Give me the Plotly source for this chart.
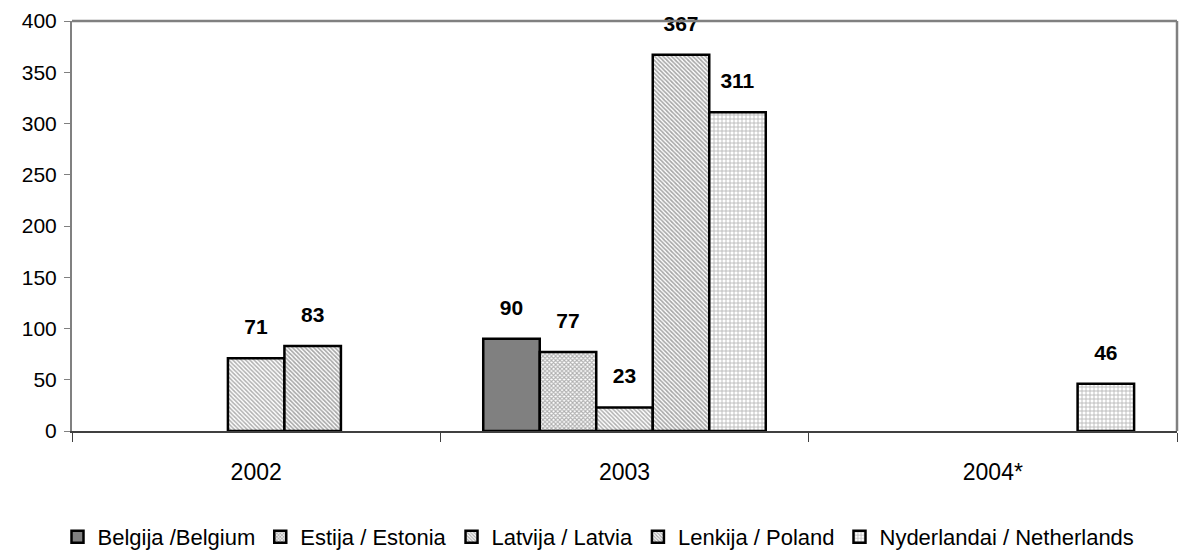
import plotly.graph_objects as go

years = ["2002", "2003", "2004*"]
series_names = ["Belgija /Belgium", "Estija / Estonia", "Latvija / Latvia",
                "Lenkija / Poland", "Nyderlandai / Netherlands"]
belgium = [None, 90, None]
estonia = [None, 77, None]
latvia = [71, 23, None]
poland = [83, 367, None]
netherlands = [None, 311, 46]
y_ticks = [0, 50, 100, 150, 200, 250, 300, 350, 400]

values = [belgium, estonia, latvia, poland, netherlands]
styles = [
    dict(color="#808080", pattern=dict(shape="")),
    dict(color="white", pattern=dict(shape="x", fgcolor="#606060", bgcolor="white", size=3, solidity=0.6)),
    dict(color="white", pattern=dict(shape="\\", fgcolor="#606060", bgcolor="white", size=3, solidity=0.5)),
    dict(color="white", pattern=dict(shape="\\", fgcolor="#505050", bgcolor="white", size=3, solidity=0.55)),
    dict(color="white", pattern=dict(shape="+", fgcolor="#707070", bgcolor="white", size=4, solidity=0.4)),
]

fig = go.Figure()
for name, vals, st in zip(series_names, values, styles):
    fig.add_trace(go.Bar(
        name=name, x=years, y=vals,
        marker=dict(color=st["color"], pattern=st["pattern"],
                    line=dict(color="black", width=2.5)),
        text=[f"<span style='font-size:21px'><b>{v}</b></span><br> " if v is not None else "" for v in vals],
        textposition="outside",
        textfont=dict(family="Liberation Sans, Arial", size=14, color="black"),
        cliponaxis=False,
    ))

fig.update_layout(
    width=1197, height=551,
    margin=dict(l=72, r=20, t=21, b=120, autoexpand=False),
    plot_bgcolor="white", paper_bgcolor="white",
    barmode="group", bargap=0.233, bargroupgap=0,
    font=dict(family="Liberation Sans, Arial", size=21, color="black"),
    showlegend=True,
    legend=dict(orientation="h", x=0.5, xanchor="center", xref="container",
                y=14 / 551, yanchor="middle", yref="container",
                font=dict(size=22), itemwidth=30, tracegroupgap=0),
    uniformtext=dict(mode=False),
)
fig.update_xaxes(
    showline=True, linecolor="#404040", linewidth=1.5, automargin=False,
    ticks="outside", tickson="boundaries", ticklen=9, tickcolor="#404040",
    tickfont=dict(size=23), ticklabelstandoff=20, showgrid=False,
)
fig.update_yaxes(
    range=[0, 400], tickvals=y_ticks, showline=True, linecolor="#808080", linewidth=2,
    automargin=False, ticklabelstandoff=3,
    ticks="outside", ticklen=6, tickcolor="#808080", tickfont=dict(size=21),
    showgrid=False, zeroline=False,
)
fig.add_shape(type="line", xref="paper", yref="paper", x0=0, x1=1, y0=1, y1=1,
              line=dict(color="#808080", width=2.5))
fig.add_shape(type="line", xref="paper", yref="paper", x0=1, x1=1, y0=0, y1=1,
              line=dict(color="#808080", width=2.5))

fig.write_html("out.html", config={"displayModeBar": False},
               post_script="document.body.style.margin='0';")
